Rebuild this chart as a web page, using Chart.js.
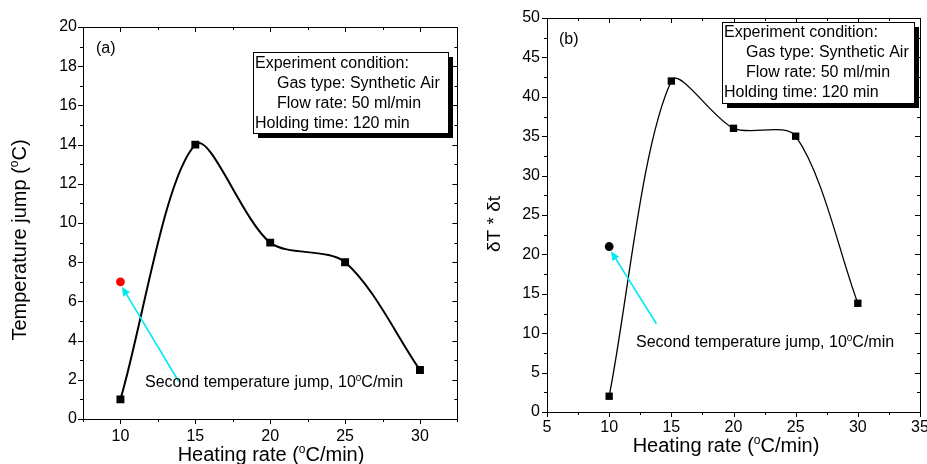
<!DOCTYPE html>
<html><head><meta charset="utf-8">
<script src="https://cdn.jsdelivr.net/npm/chart.js@4.4.0/dist/chart.umd.min.js"></script>
<style>
html,body{margin:0;padding:0;background:#fff;}
#wrap{position:relative;width:927px;height:464px;overflow:hidden;background:#fff;}
canvas{position:absolute;top:0;}
</style></head><body>
<div id="wrap">
<canvas id="ca" width="463" height="464" style="left:0px"></canvas>
<canvas id="cb" width="464" height="464" style="left:463px"></canvas>
</div>
<script>
// ---------- data ----------
const heatingRates = [10, 15, 20, 25, 30];
const tempJump = [1, 14, 9, 8, 2.5];
const secondJumpA = [{x: 10, y: 7}];
const dTdt = [2, 42, 36, 35, 13.8];
const secondJumpB = [{x: 10, y: 21}];

const xTicksA = [10, 15, 20, 25, 30];
const yTicksA = [0, 2, 4, 6, 8, 10, 12, 14, 16, 18, 20];
const xTicksB = [5, 10, 15, 20, 25, 30, 35];
const yTicksB = [0, 5, 10, 15, 20, 25, 30, 35, 40, 45, 50];

const arrowA = {from: {x: 13.9, y: 1.9}, to: {x: 10.1, y: 6.75}};
const arrowB = {from: {x: 13.8, y: 11.2}, to: {x: 10.15, y: 20.4}};

const legendLines = ['Experiment condition:', 'Gas type: Synthetic Air', 'Flow rate: 50 ml/min', 'Holding time: 120 min'];
const legendIndent = [false, true, true, false];
const noteRuns = [{t: 'Second temperature jump, 10'}, {t: 'o', sup: true}, {t: 'C/min'}];
const xTitleRuns = [{t: 'Heating rate ('}, {t: 'o', sup: true}, {t: 'C/min)'}];
const yTitleRunsA = [{t: 'Temperature jump ('}, {t: 'o', sup: true}, {t: 'C)'}];
const yTitleRunsB = [{t: '\u03B4T * \u03B4t'}];

const FONT = '"Liberation Sans", Arial, Helvetica, sans-serif';

// ---------- helpers ----------
function richWidth(ctx, runs, size) {
  let w = 0;
  runs.forEach(r => {
    ctx.font = (r.sup ? Math.round(size * 0.62) : size) + 'px ' + FONT;
    w += ctx.measureText(r.t).width;
  });
  return w;
}
function drawRich(ctx, runs, x, y, size, align) {
  const w = richWidth(ctx, runs, size);
  let cx = align === 'center' ? x - w / 2 : x;
  ctx.textBaseline = 'alphabetic';
  ctx.textAlign = 'left';
  runs.forEach(r => {
    const s = r.sup ? Math.round(size * 0.62) : size;
    ctx.font = s + 'px ' + FONT;
    ctx.fillText(r.t, cx, r.sup ? y - size * 0.4 : y);
    cx += ctx.measureText(r.t).width;
  });
}

function panelPlugin(p) {
  return {
    id: 'panel',
    afterDraw(chart) {
      const ctx = chart.ctx;
      const a = chart.chartArea;
      const xs = chart.scales.x, ys = chart.scales.y;
      ctx.save();
      ctx.fillStyle = '#000';
      ctx.strokeStyle = '#000';
      // frame
      ctx.lineWidth = 1;
      ctx.strokeRect(Math.round(a.left) + 0.5, Math.round(a.top) + 0.5, Math.round(a.right - a.left), Math.round(a.bottom - a.top));
      // ticks
      ctx.beginPath();
      for (let v = xs.min; v <= xs.max + 1e-9; v += p.xMinor) {
        const px = Math.round(xs.getPixelForValue(v)) + 0.5;
        const major = p.xTicks.some(t => Math.abs(t - v) < 1e-6);
        const L = major ? 5 : 3;
        ctx.moveTo(px, a.bottom); ctx.lineTo(px, a.bottom + L);
        ctx.moveTo(px, a.top); ctx.lineTo(px, a.top + L);
      }
      for (let v = ys.min; v <= ys.max + 1e-9; v += p.yMinor) {
        const py = Math.round(ys.getPixelForValue(v)) + 0.5;
        const major = p.yTicks.some(t => Math.abs(t - v) < 1e-6);
        const L = major ? 5 : 3;
        ctx.moveTo(a.left, py); ctx.lineTo(a.left - L, py);
        ctx.moveTo(a.right, py); ctx.lineTo(a.right - L, py);
      }
      ctx.stroke();

      // arrow
      const fx = xs.getPixelForValue(p.arrow.from.x), fy = ys.getPixelForValue(p.arrow.from.y);
      const tx = xs.getPixelForValue(p.arrow.to.x), ty = ys.getPixelForValue(p.arrow.to.y);
      const ang = Math.atan2(ty - fy, tx - fx);
      const hl = 9, hw = 4;
      ctx.strokeStyle = '#00e8f0';
      ctx.fillStyle = '#00e8f0';
      ctx.lineWidth = 1.6;
      ctx.beginPath();
      ctx.moveTo(fx, fy);
      ctx.lineTo(tx - Math.cos(ang) * hl * 0.8, ty - Math.sin(ang) * hl * 0.8);
      ctx.stroke();
      ctx.beginPath();
      ctx.moveTo(tx, ty);
      ctx.lineTo(tx - Math.cos(ang) * hl - Math.sin(ang) * hw, ty - Math.sin(ang) * hl + Math.cos(ang) * hw);
      ctx.lineTo(tx - Math.cos(ang) * hl + Math.sin(ang) * hw, ty - Math.sin(ang) * hl - Math.cos(ang) * hw);
      ctx.closePath();
      ctx.fill();

      ctx.fillStyle = '#000';
      // note text
      drawRich(ctx, noteRuns, p.note.x, p.note.y, 16, 'left');

      // legend box
      const b = p.box;
      ctx.fillStyle = '#000';
      ctx.fillRect(b.x + 5, b.y + 5, b.w, b.h);
      ctx.fillStyle = '#fff';
      ctx.fillRect(b.x, b.y, b.w, b.h);
      ctx.strokeStyle = '#000';
      ctx.lineWidth = 1;
      ctx.strokeRect(b.x + 0.5, b.y + 0.5, b.w, b.h);
      ctx.fillStyle = '#000';
      ctx.font = '16px ' + FONT;
      ctx.textAlign = 'left';
      ctx.textBaseline = 'alphabetic';
      legendLines.forEach((s, i) => {
        ctx.fillText(s, b.x + (legendIndent[i] ? 24 : 2), b.y + b.first + i * 20);
      });

      // panel label
      ctx.font = '16px ' + FONT;
      ctx.fillText(p.label, p.labelPos.x, p.labelPos.y);

      // axis titles
      drawRich(ctx, xTitleRuns, p.xTitle.x, p.xTitle.y, 20, 'center');
      ctx.save();
      ctx.translate(p.yTitle.x, p.yTitle.y);
      ctx.rotate(-Math.PI / 2);
      drawRich(ctx, p.yTitleRuns, 0, 0, p.yTitle.size, 'center');
      ctx.restore();
      ctx.restore();
    }
  };
}

function makeChart(id, cfg) {
  const tickFont = {family: FONT, size: 16};
  return new Chart(document.getElementById(id), {
    type: 'line',
    data: {
      datasets: [
        {
          data: heatingRates.map((x, i) => ({x: x, y: cfg.values[i]})),
          borderColor: '#000', borderWidth: cfg.lineWidth, tension: 0.3, fill: false,
          pointStyle: 'rect', pointRadius: cfg.sqR, pointBackgroundColor: '#000',
          pointBorderColor: '#000', pointBorderWidth: 0
        },
        {
          data: cfg.extra, showLine: false,
          pointStyle: 'circle', pointRadius: 4.4, pointBackgroundColor: cfg.extraColor,
          pointBorderColor: cfg.extraColor, pointBorderWidth: 0
        }
      ]
    },
    options: {
      responsive: false, animation: false,
      layout: {padding: {top: cfg.padTop, right: cfg.padRight, left: 0, bottom: 0}},
      plugins: {legend: {display: false}, tooltip: {enabled: false}},
      scales: {
        x: {
          type: 'linear', min: cfg.xMin, max: cfg.xMax,
          afterBuildTicks: s => { s.ticks = cfg.xTicks.map(v => ({value: v})); },
          grid: {display: false, drawTicks: false}, border: {display: false},
          ticks: {font: tickFont, color: '#000', padding: cfg.xPad, maxRotation: 0, autoSkip: false},
          afterFit: s => { s.height = cfg.xH; s.paddingLeft = 0; s.paddingRight = 0; }
        },
        y: {
          type: 'linear', min: cfg.yMin, max: cfg.yMax,
          afterBuildTicks: s => { s.ticks = cfg.yTicks.map(v => ({value: v})); },
          grid: {display: false, drawTicks: false}, border: {display: false},
          ticks: {font: tickFont, color: '#000', padding: cfg.yPad, autoSkip: false},
          afterFit: s => { s.width = cfg.yW; s.paddingTop = 0; s.paddingBottom = 0; }
        }
      }
    },
    plugins: [panelPlugin(cfg.plugin)]
  });
}

makeChart('ca', {
  values: tempJump, extra: secondJumpA, extraColor: '#ff0000', lineWidth: 2, sqR: 5.6,
  xMin: 7.5, xMax: 32.5, yMin: 0, yMax: 20, xTicks: xTicksA, yTicks: yTicksA,
  padTop: 27, padRight: 3, xH: 45, yW: 83, xPad: 8, yPad: 6,
  plugin: {
    xTicks: xTicksA, yTicks: yTicksA, xMinor: 2.5, yMinor: 1, arrow: arrowA,
    note: {x: 145, y: 387},
    box: {x: 253, y: 52, w: 195, h: 81, first: 16},
    label: '(a)', labelPos: {x: 96, y: 53},
    xTitle: {x: 271, y: 461}, yTitle: {x: 26, y: 240, size: 20}, yTitleRuns: yTitleRunsA
  }
});

makeChart('cb', {
  values: dTdt, extra: secondJumpB, extraColor: '#000', lineWidth: 1.3, sqR: 5.2,
  xMin: 5, xMax: 35, yMin: 0, yMax: 50, xTicks: xTicksB, yTicks: yTicksB,
  padTop: 18, padRight: 7, xH: 52, yW: 84, xPad: 6, yPad: 7,
  plugin: {
    xTicks: xTicksB, yTicks: yTicksB, xMinor: 2.5, yMinor: 2.5, arrow: arrowB,
    note: {x: 636 - 463, y: 347},
    box: {x: 722 - 463, y: 22, w: 192, h: 81, first: 15},
    label: '(b)', labelPos: {x: 559 - 463, y: 44},
    xTitle: {x: 726 - 463, y: 452}, yTitle: {x: 500 - 463, y: 224, size: 19}, yTitleRuns: yTitleRunsB
  }
});
</script>
</body></html>
